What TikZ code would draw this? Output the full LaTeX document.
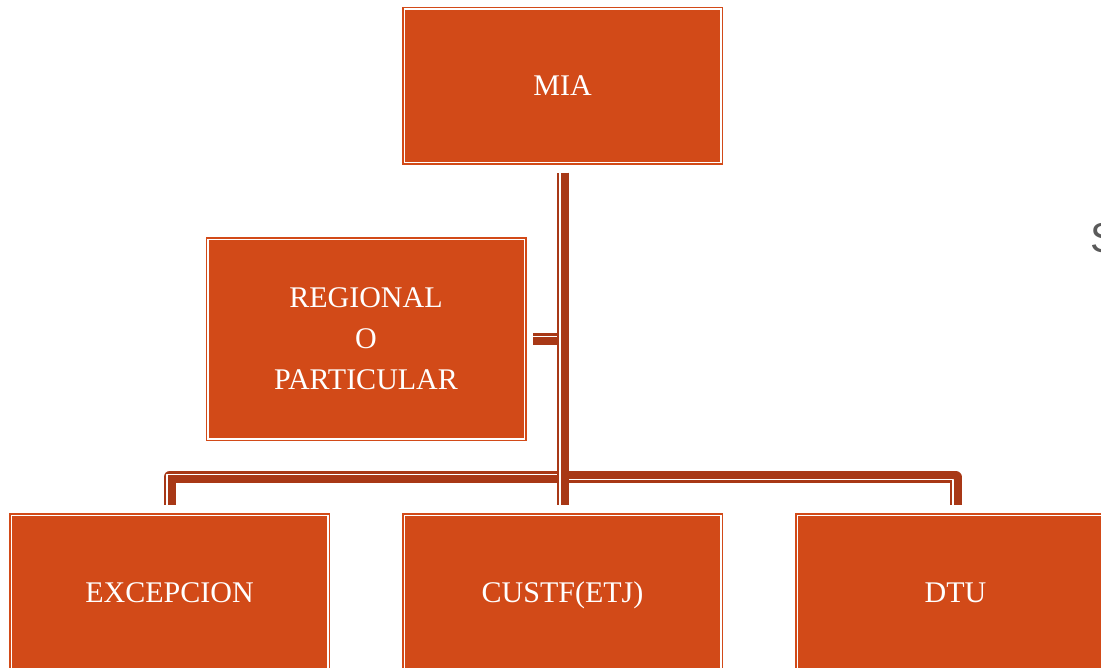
\documentclass[tikz,border=0pt]{standalone}
\usepackage{fontspec}
\setmainfont{Liberation Serif}
\newfontfamily\graysans{Liberation Sans}
\usepackage{xcolor}
\usepackage{tikz}
\usetikzlibrary{positioning}
\definecolor{boxfill}{HTML}{D24A18}
\definecolor{linkcol}{HTML}{A83816}
\definecolor{grayglyph}{HTML}{5A5A5A}

\begin{document}
\begin{tikzpicture}[
x=0.5pt, y=-0.5pt,
node distance = 176.25pt and 38.25pt,
box/.style = {rectangle, fill=boxfill, draw=boxfill, line width=0.75pt,
              double=white, double distance=0.75pt,
              inner sep=0pt, outer sep=0pt,
              minimum width=158.25pt, minimum height=76.75pt,
              text=white, align=center,
              font=\fontsize{15}{20.5}\selectfont},
onerow/.style = {text height=10pt, text depth=0pt},
link/.style = {draw=linkcol, line width=6pt, line join=round},
gap/.style = {draw=white, line width=0.9pt, line join=round,
              shorten <=-1.5pt, shorten >=-1.5pt},
                        ]
\useasboundingbox (0,0) rectangle (1101,668);
\clip (0,0) rectangle (1101,668);

\node (mia) [box, onerow] at (562.5,86) {MIA};
\node (custf) [box, onerow, below=of mia] {CUSTF(ETJ)};
\node (exc) [box, onerow, left=of custf] {EXCEPCION};
\node (dtu) [box, onerow, right=of custf] {DTU};
\node (reg) [box, minimum height=99.75pt] at (366,339) {REGIONAL\\O\\PARTICULAR};
\node (stray) [anchor=base west, inner sep=0pt, text=grayglyph,
               font=\graysans\fontsize{21}{25}\selectfont] at (1090,252) {S};

\coordinate (top) at ([yshift=-5.1pt]mia.south);
\coordinate (fork) at (562.5,477);
\coordinate (excin) at ([yshift=5pt]exc.north);
\coordinate (custin) at ([yshift=5pt]custf.north);
\coordinate (dtuin) at ([yshift=5pt]dtu.north);
\coordinate (regin) at ([xshift=4.6pt]reg.east);

% thin-thick lines: dark stroke, then a white gap on the right-hand side
\draw [link] (top) -- (fork) -| (excin);
\draw [gap, transform canvas={shift={(-1.25pt,1.25pt)}}] (top) -- (fork) -| (excin);
\draw [link] (top) -- (fork) -| (dtuin);
\draw [gap, transform canvas={shift={(-1.25pt,-1.25pt)}}] (top) -- (fork) -| (dtuin);
\draw [link] (top) |- (regin);
\draw [gap, transform canvas={shift={(-1.25pt,1.25pt)}}] (top) |- (regin);
\draw [link] (top) -- (custin);
\draw [gap, transform canvas={shift={(-1.25pt,0pt)}}] (top) -- (custin);
\end{tikzpicture}
\end{document}
